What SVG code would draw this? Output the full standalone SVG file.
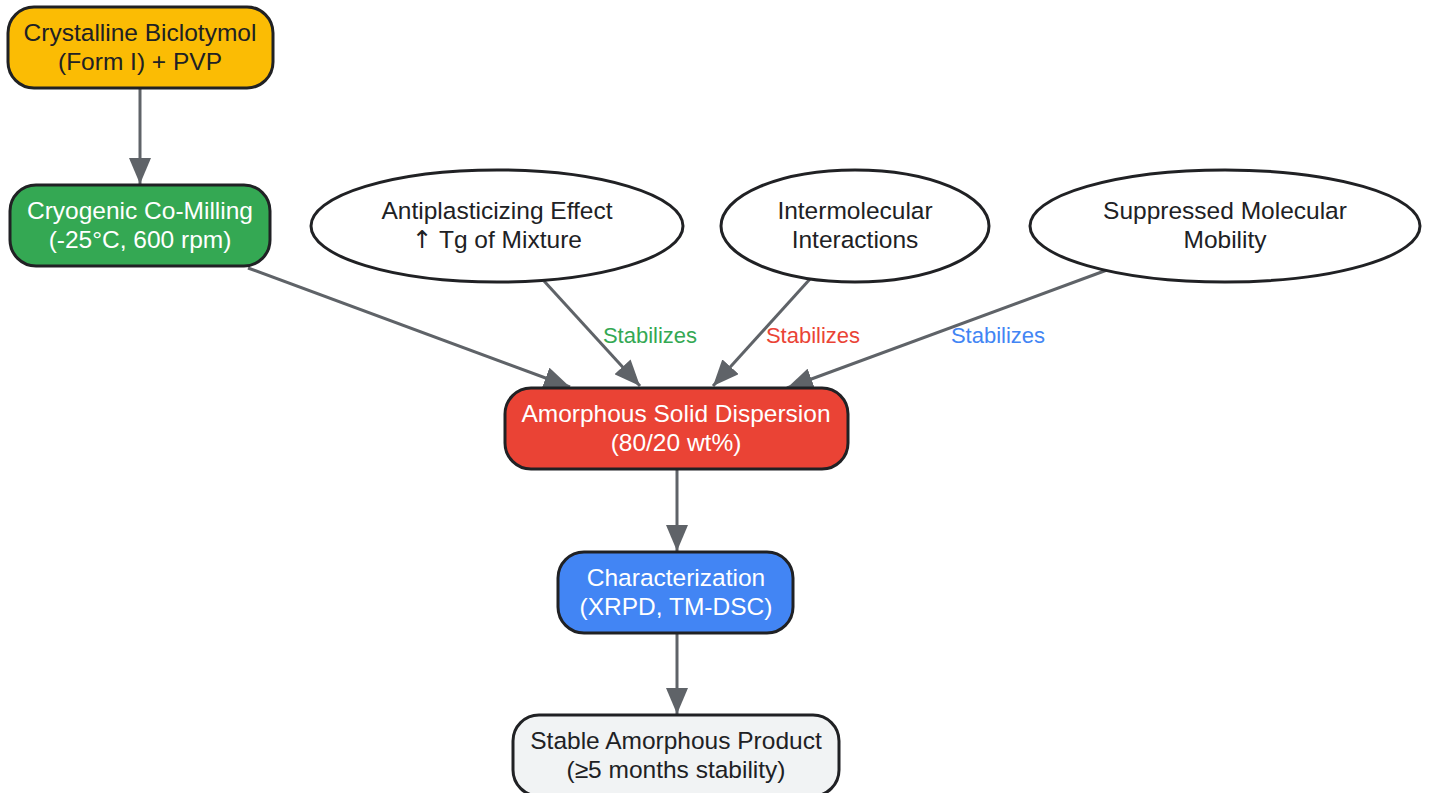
<svg xmlns="http://www.w3.org/2000/svg" width="1430" height="793" viewBox="0 0 1430 793">
<defs>
<style>
.n{stroke:#202124;stroke-width:3}
.t{font-family:"Liberation Sans",Arial,sans-serif;font-size:24.5px;text-anchor:middle}
.d{fill:#202124}
.w{fill:#ffffff}
.e{stroke:#5f6368;stroke-width:3;fill:none;marker-end:url(#ah)}
.l{font-family:"Liberation Sans",Arial,sans-serif;font-size:22px;text-anchor:middle}
.a{font-family:"DejaVu Sans",sans-serif}
</style>
<marker id="ah" markerUnits="userSpaceOnUse" markerWidth="28" markerHeight="22" refX="26" refY="11" orient="auto">
<path d="M0,0 L26,11 L0,22 z" fill="#5f6368"/>
</marker>
</defs>
<rect width="1430" height="793" fill="#ffffff"/>
<g id="edges">
<line class="e" x1="140" y1="89" x2="140" y2="184"/>
<line class="e" x1="248" y1="268" x2="570" y2="387"/>
<line class="e" x1="544" y1="281" x2="640" y2="386"/>
<line class="e" x1="810" y1="279" x2="713" y2="386"/>
<line class="e" x1="1107" y1="270" x2="787" y2="388"/>
<line class="e" x1="677" y1="470" x2="677" y2="551"/>
<line class="e" x1="677" y1="634" x2="677" y2="714"/>
<text class="l" x="650" y="343" fill="#34A853">Stabilizes</text>
<text class="l" x="813" y="343" fill="#EA4335">Stabilizes</text>
<text class="l" x="998" y="343" fill="#4285F4">Stabilizes</text>
</g>
<g id="start">
<rect class="n" x="8" y="7" width="265" height="81" rx="26" fill="#FBBC04"/>
<text class="t d" x="140" y="41">Crystalline Biclotymol</text>
<text class="t d" x="140" y="70">(Form I) + PVP</text>
</g>
<g id="milling">
<rect class="n" x="10" y="185" width="260" height="81" rx="26" fill="#34A853"/>
<text class="t w" x="140" y="219">Cryogenic Co-Milling</text>
<text class="t w" x="140" y="248">(-25°C, 600 rpm)</text>
</g>
<g id="antiplast">
<ellipse class="n" cx="497" cy="226" rx="186" ry="56" fill="#ffffff"/>
<text class="t d" x="497" y="219">Antiplasticizing Effect</text>
<text class="t d" x="497" y="248"><tspan class="a">↑</tspan> Tg of Mixture</text>
</g>
<g id="intermol">
<ellipse class="n" cx="855" cy="226" rx="134" ry="56" fill="#ffffff"/>
<text class="t d" x="855" y="219">Intermolecular</text>
<text class="t d" x="855" y="248">Interactions</text>
</g>
<g id="mobility">
<ellipse class="n" cx="1225" cy="226" rx="195" ry="56" fill="#ffffff"/>
<text class="t d" x="1225" y="219">Suppressed Molecular</text>
<text class="t d" x="1225" y="248">Mobility</text>
</g>
<g id="asd">
<rect class="n" x="505" y="388" width="343" height="81" rx="26" fill="#EA4335"/>
<text class="t w" x="676" y="422">Amorphous Solid Dispersion</text>
<text class="t w" x="676" y="451">(80/20 wt%)</text>
</g>
<g id="charact">
<rect class="n" x="558" y="552" width="235" height="81" rx="26" fill="#4285F4"/>
<text class="t w" x="676" y="586">Characterization</text>
<text class="t w" x="676" y="615">(XRPD, TM-DSC)</text>
</g>
<g id="product">
<rect class="n" x="513" y="715" width="326" height="81" rx="26" fill="#F1F3F4"/>
<text class="t d" x="676" y="749">Stable Amorphous Product</text>
<text class="t d" x="676" y="778">(≥5 months stability)</text>
</g>
</svg>
